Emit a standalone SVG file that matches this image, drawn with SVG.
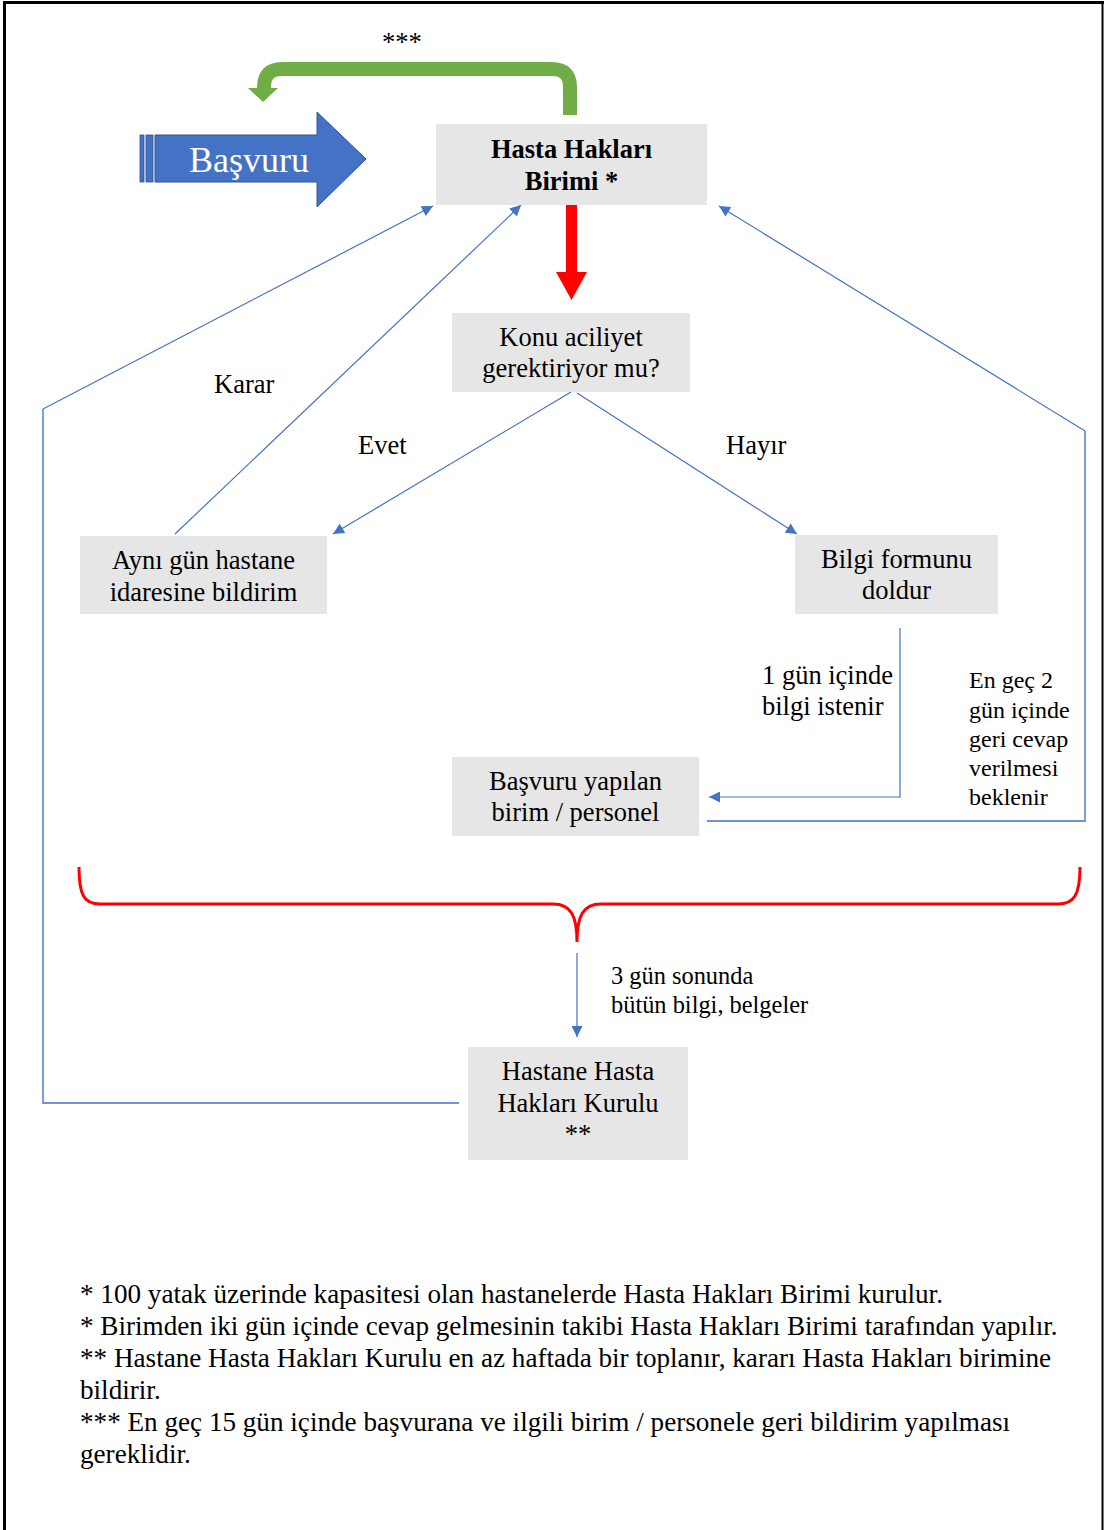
<svg xmlns="http://www.w3.org/2000/svg" width="1104" height="1530" viewBox="0 0 1104 1530">
<style>
text{font-family:"Liberation Serif","Times New Roman",serif;fill:#000}
.box{fill:#E7E6E6}
.nt{font-size:26.5px;text-anchor:middle}
.lbl{font-size:26.5px}
.sm{font-size:24px}
.sm2{font-size:24.4px}
.fn{font-size:27.15px}
.con{fill:none;stroke:#4472C4;stroke-width:1.2}
.con2{fill:none;stroke:#6F93D6;stroke-width:1.8}
</style>
<defs>
<marker id="ah" viewBox="0 0 10 10" refX="10" refY="5" markerWidth="13" markerHeight="11" orient="auto" markerUnits="userSpaceOnUse">
<path d="M0,0 L10,5 L0,10 z" fill="#4472C4"/>
</marker>
</defs>
<rect width="1104" height="1530" fill="#fff"/>
<g id="page-border" stroke="#000" fill="none">
<line x1="3" y1="2.5" x2="1104" y2="2.5" stroke-width="3"/>
<line x1="4.5" y1="1" x2="4.5" y2="1530" stroke-width="3"/>
<line x1="1102.5" y1="1" x2="1102.5" y2="1530" stroke-width="2"/>
</g>
<g id="connectors">
<path class="con2" d="M459,1103 H43 V409"/>
<path class="con" d="M43,409 L433,206" marker-end="url(#ah)"/>
<path class="con" d="M175,534 L521,205" marker-end="url(#ah)"/>
<path class="con" d="M571,392 L333,534" marker-end="url(#ah)"/>
<path class="con" d="M577,393 L797,534" marker-end="url(#ah)"/>
<path class="con" d="M900,628 V797 H709" marker-end="url(#ah)"/>
<path class="con2" d="M707,821 H1085 V431"/>
<path class="con" d="M1085,431 L719,206" marker-end="url(#ah)"/>
<path class="con" d="M577,953 V1037" marker-end="url(#ah)"/>
<g id="red-arrow" fill="#FF0000">
<rect x="566" y="205" width="11" height="68"/>
<polygon points="556,272 587,272 571.5,300"/>
</g>
<g id="green-arrow">
<path d="M570,115 V87 Q570,69 552,69 H282 Q264,69 264,87 V89" fill="none" stroke="#70AD47" stroke-width="14"/>
<polygon points="248,88 278,88 263,102" fill="#70AD47"/>
</g>
<path id="brace" d="M79,867 C79,895 84,904 100,904 L553,904 C571,904 577,916 577,942 C577,916 583,904 601,904 L1058,904 C1074,904 1080,895 1080,867" fill="none" stroke="#FF0000" stroke-width="3"/>
</g>
<g id="basvuru-arrow">
<rect x="140" y="135" width="4" height="47" fill="#4472C4" stroke="#2F528F" stroke-width="0.8"/>
<rect x="146" y="135" width="7" height="47" fill="#4472C4" stroke="#2F528F" stroke-width="0.8"/>
<polygon points="155,135 317,135 317,112 366,159 317,207 317,182 155,182" fill="#4472C4" stroke="#2F528F" stroke-width="1"/>
<text x="249" y="172" font-size="36" text-anchor="middle" style="fill:#fff">Başvuru</text>
</g>
<g id="node-hasta-haklari-birimi">
<rect class="box" x="436" y="124" width="271" height="81"/>
<text class="nt" x="571.5" y="158" font-weight="bold" font-size="27">Hasta Hakları</text>
<text class="nt" x="571.5" y="190" font-weight="bold" font-size="27">Birimi *</text>
</g>
<g id="node-konu-aciliyet">
<rect class="box" x="452" y="313" width="238" height="79"/>
<text class="nt" x="571" y="346">Konu aciliyet</text>
<text class="nt" x="571" y="377">gerektiriyor mu?</text>
</g>
<g id="node-ayni-gun">
<rect class="box" x="80" y="536" width="247" height="78"/>
<text class="nt" x="203.5" y="569">Aynı gün hastane</text>
<text class="nt" x="203.5" y="601">idaresine bildirim</text>
</g>
<g id="node-bilgi-formu">
<rect class="box" x="795" y="535" width="203" height="79"/>
<text class="nt" x="896.5" y="568">Bilgi formunu</text>
<text class="nt" x="896.5" y="599">doldur</text>
</g>
<g id="node-basvuru-yapilan">
<rect class="box" x="452" y="757" width="247" height="79"/>
<text class="nt" x="575.5" y="790">Başvuru yapılan</text>
<text class="nt" x="575.5" y="821">birim / personel</text>
</g>
<g id="node-kurul">
<rect class="box" x="468" y="1047" width="220" height="113"/>
<text class="nt" x="578" y="1080">Hastane Hasta</text>
<text class="nt" x="578" y="1112">Hakları Kurulu</text>
<text class="nt" x="578" y="1143">**</text>
</g>
<g id="labels">
<text class="lbl" x="382" y="51">***</text>
<text class="lbl" x="214" y="393">Karar</text>
<text class="lbl" x="358" y="454">Evet</text>
<text class="lbl" x="726" y="454">Hayır</text>
<text class="lbl" x="762" y="684">1 gün içinde</text>
<text class="lbl" x="762" y="715">bilgi istenir</text>
<text class="sm" x="969" y="688">En geç 2</text>
<text class="sm" x="969" y="718">gün içinde</text>
<text class="sm" x="969" y="747">geri cevap</text>
<text class="sm" x="969" y="776">verilmesi</text>
<text class="sm" x="969" y="805">beklenir</text>
<text class="sm2" x="611" y="984">3 gün sonunda</text>
<text class="sm2" x="611" y="1013">bütün bilgi, belgeler</text>
</g>
<g id="footnotes">
<text class="fn" x="80" y="1303">* 100 yatak üzerinde kapasitesi olan hastanelerde Hasta Hakları Birimi kurulur.</text>
<text class="fn" x="80" y="1335">* Birimden iki gün içinde cevap gelmesinin takibi Hasta Hakları Birimi tarafından yapılır.</text>
<text class="fn" x="80" y="1367">** Hastane Hasta Hakları Kurulu en az haftada bir toplanır, kararı Hasta Hakları birimine</text>
<text class="fn" x="80" y="1399">bildirir.</text>
<text class="fn" x="80" y="1431">*** En geç 15 gün içinde başvurana ve ilgili birim / personele geri bildirim yapılması</text>
<text class="fn" x="80" y="1463">gereklidir.</text>
</g>
</svg>
